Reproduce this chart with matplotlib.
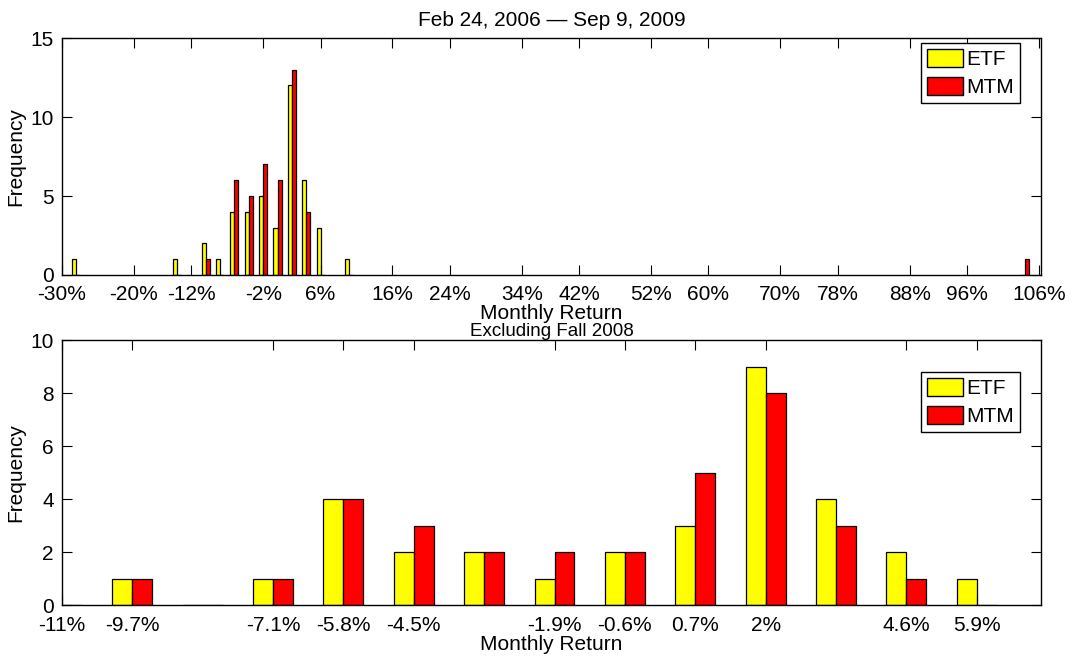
import matplotlib
matplotlib.use('Agg')
import matplotlib.pyplot as plt
from matplotlib.patches import Patch


# full period, bins are 2% wide (centres in %)
full_centers = [-28, -14, -10, -8, -6, -4, -2, 0, 2, 4, 6, 10, 104]
full_etf = [1, 1, 2, 1, 4, 4, 5, 3, 12, 6, 3, 1, 0]
full_mtm = [0, 0, 1, 0, 6, 5, 7, 6, 13, 4, 0, 0, 1]
full_ticks = [-30, -20, -12, -2, 6, 16, 24, 34, 42, 52, 60, 70, 78, 88, 96, 106]

# without fall 2008, bins are 1.3% wide
ex_centers = [-11, -9.7, -8.4, -7.1, -5.8, -4.5, -3.2, -1.9, -0.6, 0.7, 2.0, 3.3, 4.6, 5.9]
ex_etf = [0, 1, 0, 1, 4, 2, 2, 1, 2, 3, 9, 4, 2, 1]
ex_mtm = [0, 1, 0, 1, 4, 3, 2, 2, 2, 5, 8, 3, 1, 0]
ex_ticks = [-11, -9.7, -7.1, -5.8, -4.5, -1.9, -0.6, 0.7, 2.0, 4.6, 5.9]
ex_labels = ['-11%', '-9.7%', '-7.1%', '-5.8%', '-4.5%', '-1.9%', '-0.6%', '0.7%', '2%', '4.6%', '5.9%']

plt.rcParams['font.family'] = ['Liberation Sans', 'DejaVu Sans']
plt.rcParams['font.size'] = 15


def grouped_hist(ax, centers, etf, mtm, binw):
    bw = 0.284 * binw
    xe = [c - bw / 2 for c in centers]
    xm = [c + bw / 2 for c in centers]
    ax.bar(xe, etf, width=bw, color='#ffff00', edgecolor='black', linewidth=0.9)
    ax.bar(xm, mtm, width=bw, color='#ff0000', edgecolor='black', linewidth=0.9)


def style_axes(ax, xpad, leg_top):
    ax.tick_params(direction='in', length=7, width=0.8, top=True, right=True,
                   labelsize=15)
    ax.tick_params(axis='x', pad=xpad)
    ax.tick_params(axis='y', pad=6)
    for s in ax.spines.values():
        s.set_linewidth(1.0)
    leg = ax.legend(handles=[Patch(facecolor='#ffff00', edgecolor='black', label='ETF'),
                             Patch(facecolor='#ff0000', edgecolor='black', label='MTM')],
                    loc='upper right', bbox_to_anchor=(0.9785, leg_top),
                    fontsize=15, fancybox=False, framealpha=1,
                    edgecolor='black', handlelength=1.7, handleheight=0.95,
                    handletextpad=0.15, borderpad=0.3, labelspacing=0.35,
                    borderaxespad=0)
    leg.get_frame().set_linewidth(1.0)
    ax.set_ylabel('Frequency', fontsize=15, labelpad=4)


fig = plt.figure(figsize=(10.75, 6.56), dpi=100)
ax1 = fig.add_axes([0.0577, 0.5808, 0.9107, 0.3612])
ax2 = fig.add_axes([0.0577, 0.0777, 0.9107, 0.4040])

grouped_hist(ax1, full_centers, full_etf, full_mtm, 2.0)
ax1.set_xlim(-30, 106.3)
ax1.set_ylim(0, 15)
ax1.set_yticks([0, 5, 10, 15])
ax1.set_xticks(full_ticks)
ax1.set_xticklabels([f'{t}%' for t in full_ticks])
ax1.set_title('Feb 24, 2006 \u2014 Sep 9, 2009', fontsize=15, pad=9)
ax1.set_xlabel('Monthly Return', fontsize=15, labelpad=0)
style_axes(ax1, 7, 0.979)

grouped_hist(ax2, ex_centers, ex_etf, ex_mtm, 1.3)
ax2.set_xlim(-11, 7.09)
ax2.set_ylim(0, 10)
ax2.set_yticks([0, 2, 4, 6, 8, 10])
ax2.set_xticks(ex_ticks)
ax2.set_xticklabels(ex_labels)
ax2.set_title('Excluding Fall 2008', fontsize=13.5, pad=3)
ax2.set_xlabel('Monthly Return', fontsize=15, labelpad=0)
style_axes(ax2, 8, 0.879)

fig.savefig('out.png', dpi=100)
